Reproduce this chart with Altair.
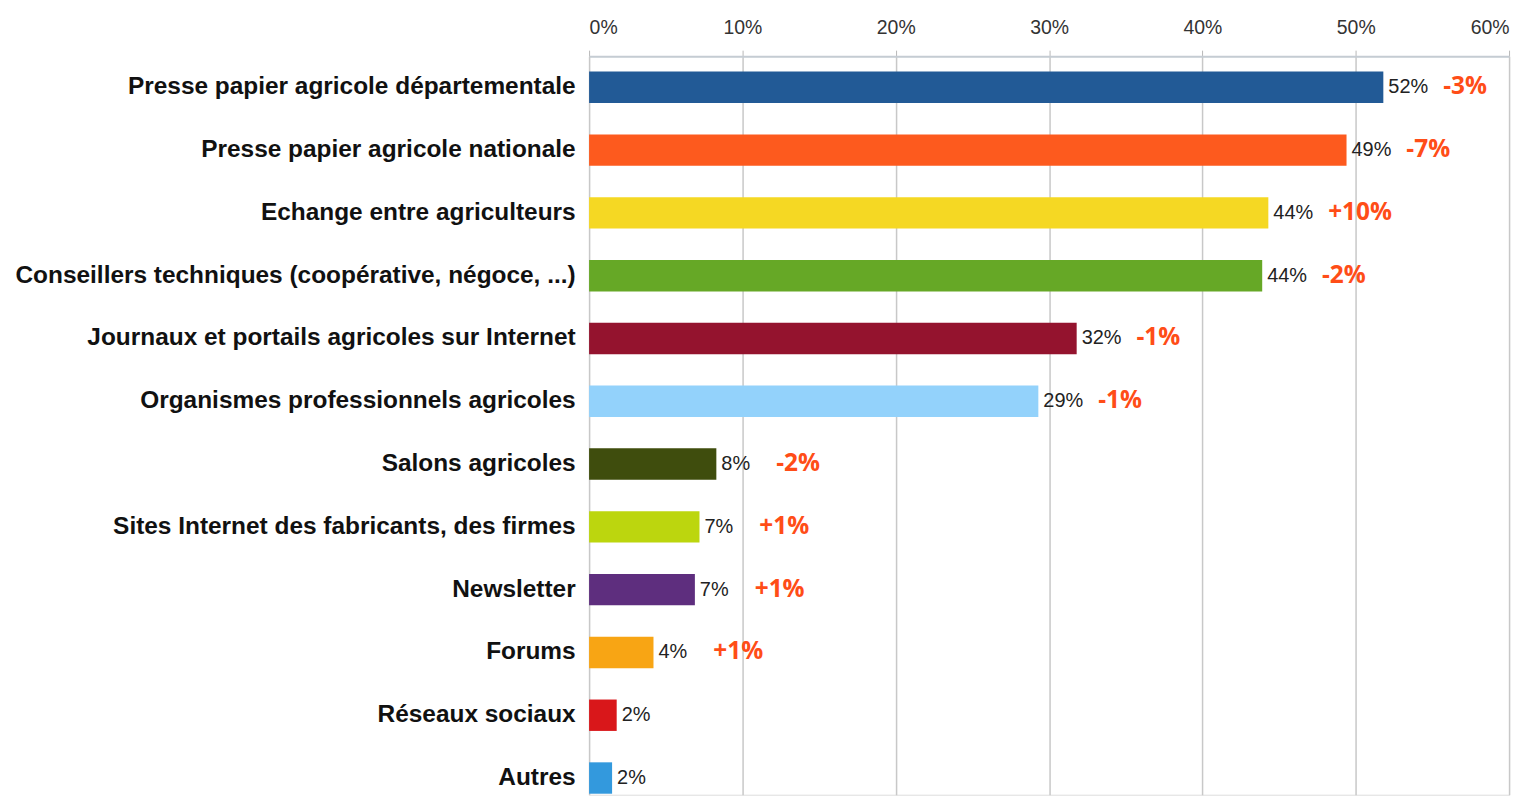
import altair as alt
import pandas as pd

categories = [
    "Presse papier agricole départementale",
    "Presse papier agricole nationale",
    "Echange entre agriculteurs",
    "Conseillers techniques (coopérative, négoce, ...)",
    "Journaux et portails agricoles sur Internet",
    "Organismes professionnels agricoles",
    "Salons agricoles",
    "Sites Internet des fabricants, des firmes",
    "Newsletter",
    "Forums",
    "Réseaux sociaux",
    "Autres",
]
values = [51.8, 49.4, 44.3, 43.9, 31.8, 29.3, 8.3, 7.2, 6.9, 4.2, 1.8, 1.5]
value_labels = ["52%", "49%", "44%", "44%", "32%", "29%", "8%", "7%", "7%", "4%", "2%", "2%"]
changes = ["-3%", "-7%", "+10%", "-2%", "-1%", "-1%", "-2%", "+1%", "+1%", "+1%", "", ""]
colors = [
    "#225a96", "#fd5a1e", "#f5d823", "#66a826", "#94132e", "#93d2fb",
    "#3f4d0d", "#bcd60e", "#5e2e7e", "#f8a514", "#d9171a", "#3399dd",
]
x_ticks = [0, 10, 20, 30, 40, 50, 60]

df = pd.DataFrame({
    "cat": categories,
    "val": values,
    "vlab": value_labels,
    "chg": changes,
})

y = alt.Y(
    "cat:N",
    sort=None,
    title=None,
    scale=alt.Scale(paddingInner=0.5, paddingOuter=0.131, align=0.94),
    axis=alt.Axis(
        orient="left",
        labelFont="Liberation Sans",
        labelFontWeight="bold",
        labelFontSize=24.5,
        labelColor="#111111",
        labelPadding=14,
        labelLimit=1000,
        ticks=False,
        domain=False,
    ),
)

x = alt.X(
    "val:Q",
    title=None,
    scale=alt.Scale(domain=[0, 60], nice=False),
    axis=alt.Axis(
        orient="top",
        values=x_ticks,
        labelExpr="datum.value + '%'",
        labelFont="Liberation Sans",
        labelFontSize=19.5,
        labelColor="#333333",
        labelPadding=13,
        grid=True,
        gridColor="#c8c8c8",
        gridWidth=1.5,
        domainColor="#c5ccd3",
        domainWidth=2,
        tickColor="#b8b8b8",
        tickSize=6,
    ),
)

base = alt.Chart(df)

bars = base.mark_bar().encode(
    x=x,
    y=y,
    color=alt.Color("cat:N", scale=alt.Scale(domain=categories, range=colors), legend=None),
)

vtext = base.mark_text(
    align="left", baseline="middle", dx=5,
    font="Liberation Sans", fontSize=20, color="#222222",
).encode(x="val:Q", y=alt.Y("cat:N", sort=None), text="vlab:N")

ctext = base.mark_text(
    align="left", baseline="middle", dx=60,
    font="Open Sans", fontWeight="bold", fontSize=24.5, color="#ff4d17",
).encode(x="val:Q", y=alt.Y("cat:N", sort=None), text="chg:N")

chart = alt.layer(bars, vtext, ctext).properties(
    width=923,
    height=741,
    autosize=alt.AutoSizeParams(type="none"),
    padding={"left": 583, "top": 47, "right": 18, "bottom": 0},
).configure_view(stroke=None).configure(background="white")

chart.save("out.html", embed_options={"renderer": "svg", "actions": False})
